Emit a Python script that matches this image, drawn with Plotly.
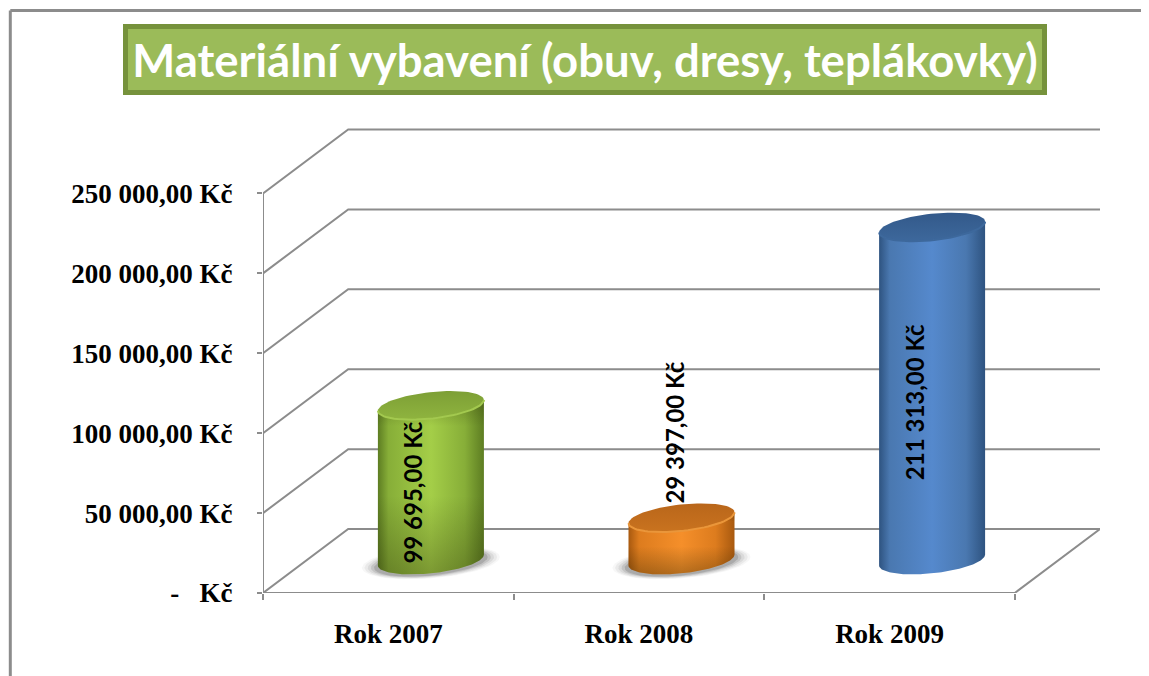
"""
Materialni vybaveni - pseudo 3D cylinder chart drawn on a plain 2D axis.
"""
import numpy as np
import plotly.graph_objects as go

CATEGORIES = ["Rok 2007", "Rok 2008", "Rok 2009"]
VALUES = [99695, 29397, 211313]
VALUE_LABELS = ["99 695,00 Kč", "29 397,00 Kč", "211 313,00 Kč"]
Y_TICKS = [0, 50000, 100000, 150000, 200000, 250000]
Y_TICK_LABELS = [
    "-\u00a0\u00a0\u00a0Kč", "50 000,00 Kč", "100 000,00 Kč",
    "150 000,00 Kč", "200 000,00 Kč", "250 000,00 Kč",
]
TITLE = "Materiální vybavení (obuv, dresy, teplákovky)"

_OFF = 8  # page margin in front of the figure
_W, _H = 1141, 668
_L, _T, _R, _B = 262.5, 125, 1100.5, 593.5  # plot box in page pixels
_GRID = "#8c8c8c"
_DEPTH_X, _DEPTH_Y = 0.34, 40000  # how far the back wall sits behind the front plane
_A, _BB, _TILT = 0.2115, 8300, 3400  # ellipse radii in axis units
_BASE = _DEPTH_Y / 2 + 600
_CAP_DROP = 2900  # perspective makes the bars a touch shorter than the front scale

_CYL = [
    dict(edge="#5d7d22", soft="#87ae38", mid="#a4ce48", top0="#7d9f35", top1="#8fb43f", rim="#a3c94f", shade=True),
    dict(edge="#a8590f", soft="#dd7c1e", mid="#f58f2a", top0="#b9661a", top1="#c9731f", rim="#ea963a", shade=True),
    dict(edge="#2e5380", soft="#4a78b0", mid="#5589cd", top0="#33598a", top1="#3d689c", rim="#3d689c", shade=False),
]
_LABEL_POS = [(0.595, 62900), (1.641, 100500), (2.601, 119300)]


def px(x):
    return (x - _L) / (_R - _L)


def py(y):
    return (_B - y) / (_B - _T)


def ellipse(cx, cy, a=_A, b=_BB, tilt=_TILT, t0=0, t1=2 * np.pi, n=80):
    t = np.linspace(t0, t1, n)
    return cx + a * np.cos(t), cy + b * np.sin(t) + tilt * np.cos(t)


def grid_lines():
    xs, ys = [], []
    x_max = len(CATEGORIES)
    for v in Y_TICKS:
        xs += [0, _DEPTH_X, x_max + _DEPTH_X, None]
        ys += [v, v + _DEPTH_Y, v + _DEPTH_Y, None]
    # floor front edge and floor right edge
    xs += [0, x_max, x_max + _DEPTH_X]
    ys += [0, 0, _DEPTH_Y]
    return xs, ys


fig = go.Figure()
gx, gy = grid_lines()
fig.add_trace(go.Scatter(x=gx, y=gy, mode="lines", line=dict(color=_GRID, width=2),
                         hoverinfo="skip", cliponaxis=False))

for i, (cat, val, st) in enumerate(zip(CATEGORIES, VALUES, _CYL)):
    cx = i + 0.5 + _DEPTH_X / 2
    top = _BASE + val - _CAP_DROP

    if st["shade"]:
        # soft floor shadow
        for grow, alpha in [(1.3, 0.04), (1.25, 0.06), (1.19, 0.08), (1.13, 0.12), (1.07, 0.16)]:
            sx, sy = ellipse(cx, _BASE - 1500, a=_A * grow, b=_BB * (grow * 0.92))
            fig.add_trace(go.Scatter(
                x=sx, y=sy, mode="lines", fill="toself", line=dict(width=0),
                fillcolor=f"rgba(40,40,40,{alpha})", hoverinfo="skip",
            ))

    # side of the cylinder
    bx, by = ellipse(cx, _BASE, t0=2 * np.pi, t1=np.pi)
    tx, ty = ellipse(cx, top, t0=np.pi, t1=2 * np.pi)
    side_x = np.concatenate([bx, tx])
    side_y = np.concatenate([by, ty])
    fig.add_trace(go.Scatter(
        x=side_x, y=side_y, mode="lines", fill="toself", line=dict(width=0),
        fillcolor=st["mid"],
        fillgradient=dict(
            type="horizontal",
            colorscale=[[0, st["edge"]], [0.1, st["soft"]], [0.5, st["mid"]], [0.82, st["soft"]], [1, st["edge"]]],
        ),
        name=cat,
    ))
    if st["shade"]:
        fig.add_trace(go.Scatter(
            x=side_x, y=side_y, mode="lines", fill="toself", line=dict(width=0),
            fillcolor="rgba(0,0,0,0)",
            fillgradient=dict(
                type="vertical",
                colorscale=[[0, "rgba(30,30,0,0.30)"], [0.45, "rgba(30,30,0,0)"], [0.85, "rgba(30,30,0,0)"], [1, "rgba(30,30,0,0.25)"]],
            ),
            hoverinfo="skip",
        ))

    # top cap with its lighter front rim
    ex, ey = ellipse(cx, top)
    fig.add_trace(go.Scatter(
        x=ex, y=ey, mode="lines", fill="toself", line=dict(width=0),
        fillcolor=st["top0"],
        fillgradient=dict(type="vertical", colorscale=[[0, st["top1"]], [1, st["top0"]]]),
        hoverinfo="skip",
    ))
    rx, ry = ellipse(cx, top, t0=np.pi, t1=2 * np.pi, n=40)
    fig.add_trace(go.Scatter(
        x=rx, y=ry, mode="lines", line=dict(color=st["rim"], width=2), hoverinfo="skip",
    ))

annotations = [
    dict(
        x=px(585), y=py(59.5), xref="paper", yref="paper", xanchor="center", yanchor="middle",
        showarrow=False, text=f"<b>{TITLE}</b>", width=914, height=61,
        bgcolor="#9bbb59", bordercolor="#76923c", borderwidth=5, borderpad=0,
        font=dict(family="Lato", size=45.5, color="white"),
    ),
]
for label, (lx, ly) in zip(VALUE_LABELS, _LABEL_POS):
    annotations.append(dict(
        x=lx, y=ly, xref="x", yref="y", showarrow=False, textangle=-90,
        text=f"<b>{label}</b>",
        font=dict(family="Lato", size=24, color="black"),
    ))

shapes = [
    dict(type="line", xref="paper", yref="paper", x0=px(9.5), y0=py(10.5), x1=px(1160), y1=py(10.5),
         line=dict(color=_GRID, width=3)),
    dict(type="line", xref="paper", yref="paper", x0=px(9.5), y0=py(10.5), x1=px(9.5), y1=py(690),
         line=dict(color=_GRID, width=3)),
    # left wall edge, behind the traces
    dict(type="line", xref="x", yref="y", x0=0, y0=Y_TICKS[0], x1=0, y1=Y_TICKS[-1], layer="below",
         line=dict(color=_GRID, width=2)),
]

fig.update_layout(
    width=_W, height=_H,
    autosize=False,
    paper_bgcolor="white", plot_bgcolor="white",
    showlegend=False,
    margin=dict(l=_L - _OFF, r=_W + _OFF - _R, t=_T - _OFF, b=_H + _OFF - _B, pad=0),
    annotations=annotations,
    shapes=shapes,
    font=dict(family="Liberation Serif", color="black", size=27),
    xaxis=dict(
        range=[0, len(CATEGORIES) + _DEPTH_X],
        tickmode="array",
        tickvals=[i + 0.5 for i in range(len(CATEGORIES))],
        ticktext=[f"<b>{c}</b>" for c in CATEGORIES],
        ticks="", showgrid=False, zeroline=False, showline=False,
        ticklabelstandoff=22,
        minor=dict(tickmode="array", tickvals=list(range(len(CATEGORIES) + 1)),
                   ticks="outside", ticklen=6, tickwidth=2, tickcolor=_GRID, showgrid=False),
    ),
    yaxis=dict(
        range=[0, (_B - _T) / 400 * Y_TICKS[-1]],
        tickmode="array",
        tickvals=Y_TICKS,
        ticktext=[f"<b>{t}</b>" for t in Y_TICK_LABELS],
        ticks="outside", ticklen=5, tickwidth=2, tickcolor=_GRID,
        showgrid=False, zeroline=False, showline=False,
        ticklabelstandoff=19,
    ),
)

fig.write_html("out.html")
